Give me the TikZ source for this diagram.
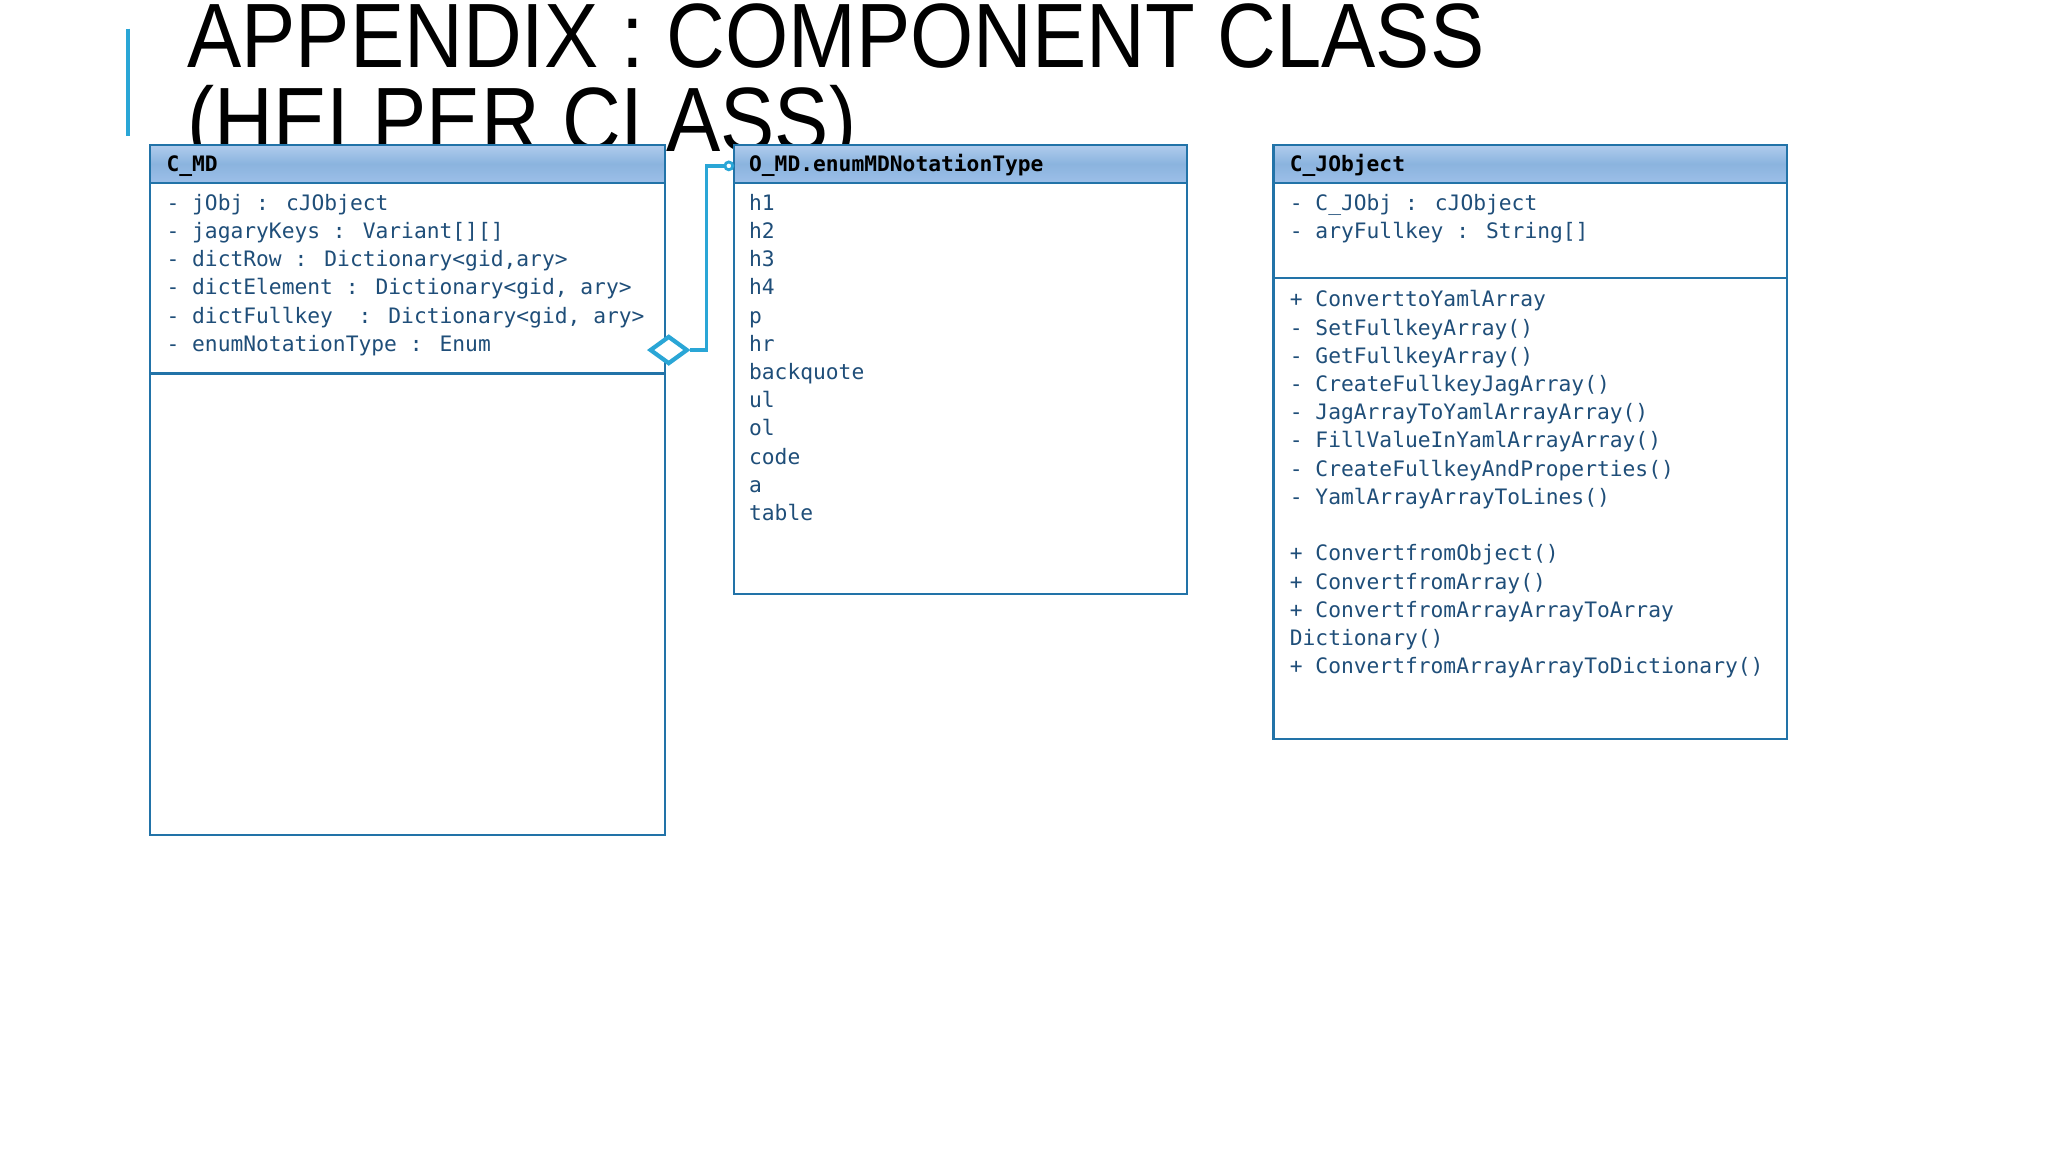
\documentclass[tikz,border=0pt]{standalone}
\usepackage{fontspec}
\setmainfont{Liberation Sans}
\newfontfamily\mono{DejaVu Sans Mono}
\newfontfamily\titlefont{Liberation Sans}
\usetikzlibrary{shapes.geometric}
\definecolor{bord}{HTML}{2273A8}
\definecolor{txt}{HTML}{1F4E79}
\definecolor{hdr}{HTML}{9DBFE8}
\definecolor{conn}{HTML}{2AA6D6}
\tikzset{
 ln/.style={anchor=base west,inner sep=0pt,text=txt,font=\mono\fontsize{6.05pt}{7pt}\selectfont},
 hd/.style={anchor=base west,inner sep=0pt,text=black,font=\mono\bfseries\fontsize{6.05pt}{7pt}\selectfont},
 box/.style={draw=bord,line width=0.6pt,fill=white},
 hbox/.style={draw=bord,line width=0.6pt,top color=hdr!80!white,bottom color=hdr,middle color=hdr!85!bord},
}
\begin{document}
\begin{tikzpicture}[x=0.013061cm,y=-0.013061cm]
\useasboundingbox (0,0) rectangle (1568,882);
\fill[white] (0,0) rectangle (1568,882);
\draw[conn,line width=1pt] (98,22) -- (98,104);
\node[anchor=base west,inner sep=0pt,font=\titlefont\fontsize{26pt}{30pt}\selectfont,xscale=0.89] (t1) at (143,52) {APPENDIX : COMPONENT CLASS};
\node[anchor=base west,inner sep=0pt,font=\titlefont\fontsize{26pt}{30pt}\selectfont,xscale=0.89] (t2) at (143,116) {(HELPER CLASS)};
% C_MD
\draw[box] (115,111) rectangle (509,639);
\draw[hbox] (115,111) rectangle (509,140);
\draw[bord,line width=0.6pt] (115,286) -- (509,286);
\node[hd] (h1) at (127,131) {C\_MD};
\foreach \t [count=\i] in {- jObj : cJObject,- jagaryKeys : Variant[][],- dictRow : Dictionary<gid{,}ary>,- dictElement : Dictionary<gid{,} ary>,- dictFullkey \ : Dictionary<gid{,} ary>,- enumNotationType : Enum}
  \node[ln] (a\i) at (127,{161+21.6*(\i-1)}) {\t};
% enum
\draw[box] (562,111) rectangle (909,455);
\draw[hbox] (562,111) rectangle (909,140);
\node[hd] (h2) at (573,131) {O\_MD.enumMDNotationType};
\foreach \t [count=\i] in {h1,h2,h3,h4,p,hr,backquote,ul,ol,code,a,table}
  \node[ln] (b\i) at (573,{161+21.6*(\i-1)}) {\t};
% C_JObject
\draw[box] (975,111) rectangle (1368,566);
\draw[hbox] (975,111) rectangle (1368,140);
\draw[bord,line width=0.6pt] (975,213) -- (1368,213);
\node[hd] (h3) at (987,131) {C\_JObject};
\node[ln] (c1) at (987,161) {- C\_JObj : cJObject};
\node[ln] (c2) at (987,182.6) {- aryFullkey : String[]};
\foreach \t [count=\i] in {+ ConverttoYamlArray,- SetFullkeyArray(),- GetFullkeyArray(),- CreateFullkeyJagArray(),- JagArrayToYamlArrayArray(),- FillValueInYamlArrayArray(),- CreateFullkeyAndProperties(),- YamlArrayArrayToLines(),{},+ ConvertfromObject(),+ ConvertfromArray(),+ ConvertfromArrayArrayToArray,Dictionary(),+ ConvertfromArrayArrayToDictionary()}
  \node[ln] (m\i) at (987,{235+21.6*(\i-1)}) {\t};
% connector
\node[diamond,draw=conn,fill=white,line width=1.2pt,minimum width=0.38cm,minimum height=0.28cm,inner sep=0pt,aspect=1.4] (dia) at (512,268) {};
\coordinate (cend) at (558,127);
\draw[conn,line width=1pt] (dia.east) -- (541,268) -- (541,127) -- (cend);
\draw[conn,line width=0.8pt,fill=white] (cend) circle (3);
\end{tikzpicture}
\end{document}
